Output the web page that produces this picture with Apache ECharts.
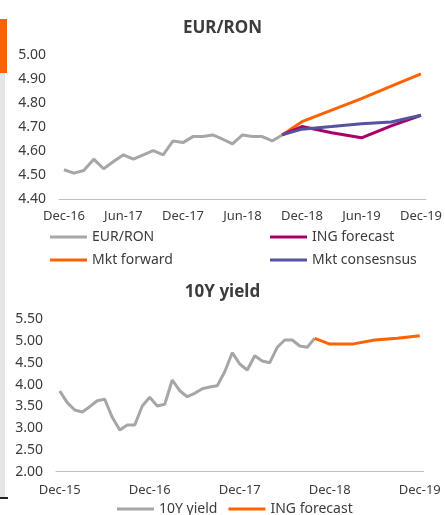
<!DOCTYPE html>
<html><head><meta charset="utf-8">
<script src="https://cdn.jsdelivr.net/npm/echarts@6/dist/echarts.min.js"></script>
<style>html,body{margin:0;padding:0;background:#fff}#c{width:445px;height:515px}</style>
</head><body><div id="c"></div>
<script>
function months(startYear, startMonth, count) {
  var names = ['Jan','Feb','Mar','Apr','May','Jun','Jul','Aug','Sep','Oct','Nov','Dec'];
  var out = [];
  for (var i = 0; i < count; i++) {
    var m = (startMonth + i) % 12, y = startYear + Math.floor((startMonth + i) / 12);
    out.push(names[m] + '-' + String(y % 100).padStart(2, '0'));
  }
  return out;
}
// Top chart: EUR/RON, monthly Dec-16 .. Dec-19
var fxCategories = months(2016, 11, 37);
var eurRon = [4.522, 4.508, 4.519, 4.566, 4.526, 4.556, 4.584, 4.566, 4.584, 4.602, 4.584, 4.642,
  4.635, 4.660, 4.660, 4.667, 4.649, 4.630, 4.667, 4.660, 4.660, 4.642, 4.667];
var fcDates = ['Oct-18', 'Dec-18', 'Mar-19', 'Jun-19', 'Sep-19', 'Dec-19'];
var ingFx = [4.667, 4.702, 4.676, 4.655, 4.705, 4.749];
var mktForward = [4.667, 4.722, 4.770, 4.818, 4.870, 4.921];
var mktConsensus = [4.667, 4.691, 4.702, 4.714, 4.721, 4.749];
var fxTicks = [4.4, 5.0, 0.1];

// Bottom chart: 10Y yield, monthly Dec-15 .. Dec-19
var yCategories = months(2015, 11, 49);
var yield10 = [3.853, 3.585, 3.417, 3.371, 3.493, 3.630, 3.663, 3.249, 2.957, 3.072, 3.072, 3.509,
  3.709, 3.509, 3.548, 4.106, 3.860, 3.722, 3.800, 3.906, 3.945, 3.975, 4.297, 4.733,
  4.473, 4.336, 4.664, 4.542, 4.503, 4.857, 5.025, 5.025, 4.887, 4.857, 5.064];
var yfDates = ['Oct-18', 'Dec-18', 'Mar-19', 'Jun-19', 'Sep-19', 'Dec-19'];
var ingYield = [5.064, 4.930, 4.930, 5.025, 5.064, 5.123];
var yTicks = [2.0, 5.5, 0.5];

function pairs(cats, dates, vals) { return dates.map(function (d, i) { return [cats.indexOf(d), vals[i]]; }); }

var FONT = 'Noto Sans';
var TXT = '#3c3c3c';
var GRAY = '#a6a6a6', ORANGE = '#ff6200', MAGENTA = '#a8006a', BLUE = '#55539f';

function xAxis(gi, cats, every, margin) {
  return {
    type: 'category', gridIndex: gi, data: cats, boundaryGap: true,
    axisLine: { lineStyle: { color: '#bfbfbf', width: 1 } },
    axisTick: { interval: every - 1, length: 5, lineStyle: { color: '#bfbfbf' } },
    axisLabel: { interval: every - 1, color: TXT, fontFamily: FONT, fontSize: 13, margin: margin }
  };
}
function yAxis(gi, t) {
  return {
    type: 'value', gridIndex: gi, min: t[0], max: t[1], interval: t[2],
    axisLine: { show: false }, axisTick: { show: false }, splitLine: { show: false },
    axisLabel: { color: TXT, fontFamily: FONT, fontSize: 14, margin: 13, formatter: function (v) { return v.toFixed(2); } }
  };
}
function line(name, color, xi, data) {
  return { name: name, type: 'line', xAxisIndex: xi, yAxisIndex: xi, data: data, showSymbol: false, symbol: 'none',
    lineStyle: { color: color, width: 3 }, itemStyle: { color: color }, animation: false, z: 2 };
}
var legendText = { color: TXT, fontFamily: FONT, fontSize: 14 };

var chart = echarts.init(document.getElementById('c'), null, { renderer: 'canvas' });
chart.setOption({
  animation: false,
  title: [
    { text: 'EUR/RON', left: 'center', top: 15, textStyle: { color: TXT, fontFamily: FONT, fontSize: 17, fontWeight: 'bold' } },
    { text: '10Y yield', left: 'center', top: 279, textStyle: { color: TXT, fontFamily: FONT, fontSize: 17, fontWeight: 'bold' } }
  ],
  grid: [
    { left: 59, width: 369, top: 55, height: 144 },
    { left: 56, width: 367.5, top: 319.3, height: 152.4 }
  ],
  xAxis: [xAxis(0, fxCategories, 6, 11), xAxis(1, yCategories, 12, 12)],
  yAxis: [yAxis(0, fxTicks), yAxis(1, yTicks)],
  legend: [
    { data: ['EUR/RON', 'Mkt forward'], orient: 'vertical', left: 45, top: 225, itemWidth: 37, itemHeight: 3, icon: 'rect', itemGap: 9, textStyle: legendText, selectedMode: false },
    { data: ['ING forecast', 'Mkt consesnsus'], orient: 'vertical', left: 265, top: 225, itemWidth: 37, itemHeight: 3, icon: 'rect', itemGap: 9, textStyle: legendText, selectedMode: false },
    { data: ['10Y yield', 'ING forecast '], orient: 'horizontal', left: 112, top: 497, itemWidth: 37, itemHeight: 3, icon: 'rect', itemGap: 11, textStyle: legendText, selectedMode: false }
  ],
  series: [
    line('EUR/RON', GRAY, 0, eurRon),
    line('Mkt forward', ORANGE, 0, pairs(fxCategories, fcDates, mktForward)),
    line('ING forecast', MAGENTA, 0, pairs(fxCategories, fcDates, ingFx)),
    line('Mkt consesnsus', BLUE, 0, pairs(fxCategories, fcDates, mktConsensus)),
    line('10Y yield', GRAY, 1, yield10),
    line('ING forecast ', ORANGE, 1, pairs(yCategories, yfDates, ingYield))
  ],
  graphic: [
    { type: 'rect', shape: { x: 0, y: 19, width: 7, height: 54 }, style: { fill: ORANGE } },
    { type: 'rect', shape: { x: 0, y: 73, width: 5, height: 425 }, style: { fill: '#e6e6e6' } },
    { type: 'rect', shape: { x: 0, y: 497, width: 8, height: 2 }, style: { fill: '#222' } }
  ]
});
</script></body></html>
